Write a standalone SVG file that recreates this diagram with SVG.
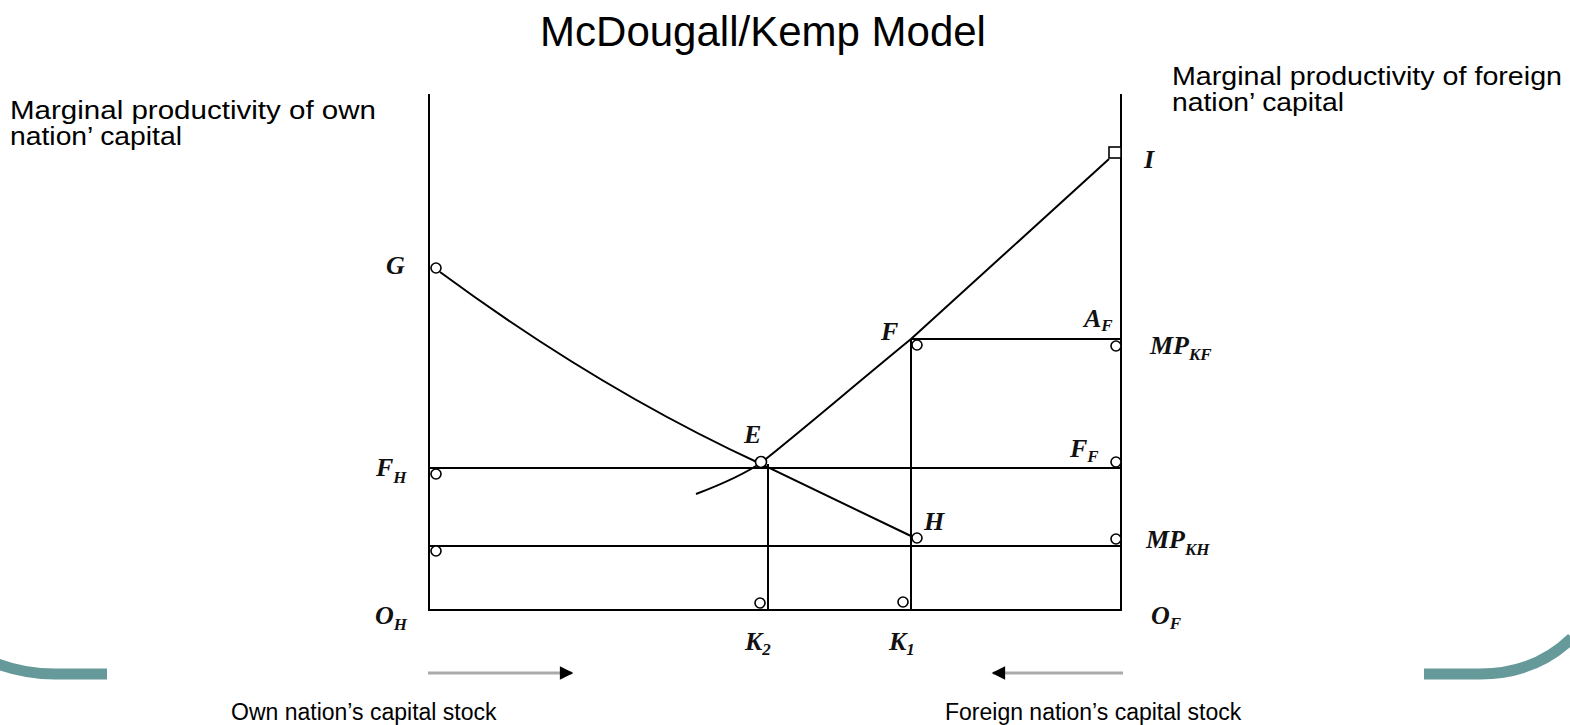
<svg xmlns="http://www.w3.org/2000/svg" width="1570" height="725" viewBox="0 0 1570 725">
<style>
.ln{stroke:#000;stroke-width:2;fill:none}
.pt{stroke:#000;stroke-width:1.6;fill:#fff}
.tx{font-family:"Liberation Sans",Arial,sans-serif;fill:#000}
.m{font-family:"Liberation Serif","Times New Roman",serif;font-style:italic;font-weight:bold;font-size:26px;fill:#111}
.s{font-size:17px}
.teal{stroke:#669999;stroke-width:11;fill:none}
</style>
<defs>
<marker id="ah" viewBox="0 0 10 10" refX="9" refY="5" markerWidth="5" markerHeight="4.5" orient="auto" markerUnits="strokeWidth">
<path d="M0,0 L10,5 L0,10 z" fill="#000"/>
</marker>
</defs>
<g id="decor">
<path class="teal" d="M-2,664 Q25,674 55,674 L107,674"/>
<path class="teal" d="M1424,674 L1480,674 Q1535,674 1572,638"/>
</g>
<text class="tx" x="763" y="46" font-size="42" text-anchor="middle">McDougall/Kemp Model</text>
<g id="axis-labels" class="tx" font-size="25">
<text x="10" y="119" textLength="366" lengthAdjust="spacingAndGlyphs">Marginal productivity of own</text>
<text x="10" y="145" textLength="172" lengthAdjust="spacingAndGlyphs">nation’ capital</text>
<text x="1172" y="85" textLength="390" lengthAdjust="spacingAndGlyphs">Marginal productivity of foreign</text>
<text x="1172" y="111" textLength="172" lengthAdjust="spacingAndGlyphs">nation’ capital</text>
<text x="231" y="720" font-size="23">Own nation’s capital stock</text>
<text x="945" y="720" font-size="23">Foreign nation’s capital stock</text>
</g>
<g id="connectors">
<line class="ln" x1="429" y1="94" x2="429" y2="610"/>
<line class="ln" x1="1121" y1="94" x2="1121" y2="610"/>
<line class="ln" x1="428" y1="610" x2="1122" y2="610"/>
<line class="ln" x1="429" y1="468" x2="1121" y2="468"/>
<line class="ln" x1="429" y1="546" x2="1121" y2="546"/>
<line class="ln" x1="911" y1="339" x2="1121" y2="339"/>
<line class="ln" x1="768" y1="464" x2="768" y2="610"/>
<line class="ln" x1="911" y1="339" x2="911" y2="610"/>
<path class="ln" d="M440,272 Q600,390 761,464 L913,537"/>
<path class="ln" d="M696,494 C725,483 745,474 762,462 C800,432 850,389 911,339 L1109,159"/>
<line x1="428" y1="673" x2="572" y2="673" stroke="#aaa" stroke-width="3" marker-end="url(#ah)"/>
<line x1="1123" y1="673" x2="993" y2="673" stroke="#aaa" stroke-width="3" marker-end="url(#ah)"/>
</g>
<g id="G"><circle class="pt" cx="436" cy="268" r="5"/><text class="m" x="386" y="274">G</text></g>
<g id="FH"><circle class="pt" cx="436" cy="474" r="5"/><text class="m" x="376" y="476">F<tspan class="s" dy="7">H</tspan></text></g>
<g id="MPKH-left"><circle class="pt" cx="436" cy="551" r="5"/></g>
<g id="OH"><text class="m" x="375" y="624">O<tspan class="s" dy="6">H</tspan></text></g>
<g id="E"><circle class="pt" cx="761" cy="462" r="5.5"/><text class="m" x="744" y="443">E</text></g>
<g id="K2"><circle class="pt" cx="760" cy="603" r="5"/><text class="m" x="745" y="650">K<tspan class="s" dy="5">2</tspan></text></g>
<g id="K1"><circle class="pt" cx="903" cy="602" r="5"/><text class="m" x="889" y="650">K<tspan class="s" dy="5">1</tspan></text></g>
<g id="F"><circle class="pt" cx="917" cy="345" r="5"/><text class="m" x="881" y="340">F</text></g>
<g id="H"><circle class="pt" cx="917" cy="538" r="5"/><text class="m" x="924" y="530">H</text></g>
<g id="I"><rect class="pt" x="1109" y="147" width="12" height="11"/><text class="m" x="1144" y="168">I</text></g>
<g id="AF"><text class="m" x="1084" y="327">A<tspan class="s" dy="4">F</tspan></text></g>
<g id="MPKF"><circle class="pt" cx="1116" cy="346" r="5"/><text class="m" x="1150" y="354">MP<tspan class="s" dy="6">KF</tspan></text></g>
<g id="FF"><circle class="pt" cx="1116" cy="462" r="5"/><text class="m" x="1070" y="457">F<tspan class="s" dy="5">F</tspan></text></g>
<g id="MPKH"><circle class="pt" cx="1116" cy="539" r="5"/><text class="m" x="1146" y="548">MP<tspan class="s" dy="7">KH</tspan></text></g>
<g id="OF"><text class="m" x="1151" y="624">O<tspan class="s" dy="5">F</tspan></text></g>
</svg>
